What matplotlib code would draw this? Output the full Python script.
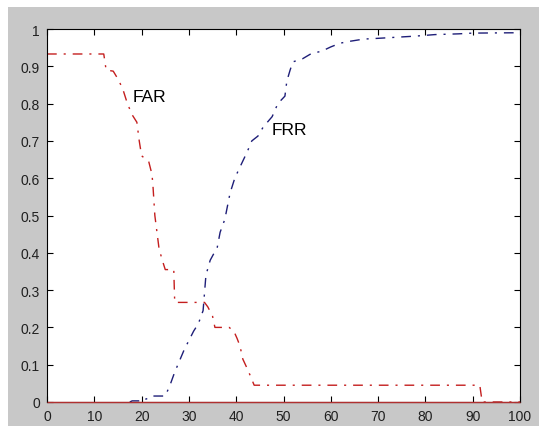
import matplotlib
matplotlib.use("Agg")
import matplotlib.pyplot as plt
from matplotlib.patches import Rectangle

# FAR curve (red)
far_x = [0, 12, 12.5, 14, 15, 16, 17, 18, 19, 19.5, 20, 21.5, 22.2, 22.4, 22.8, 23.7, 24.5, 25,
         26.8, 27, 33.3, 34, 35, 35.5, 38.5, 39.5, 40.2, 40.8, 41.4, 42.5, 43.8, 91.5, 92, 100]
far_y = [0.933, 0.933, 0.89, 0.887, 0.866, 0.84, 0.80, 0.77, 0.75, 0.70, 0.66, 0.645, 0.61, 0.58,
         0.50, 0.41, 0.375, 0.355, 0.355, 0.267, 0.267, 0.255, 0.23, 0.20, 0.20, 0.19, 0.17, 0.15,
         0.115, 0.085, 0.045, 0.045, 0.0, 0.0]

# FRR curve (blue)
frr_x = [17.5, 18, 19.7, 20, 21, 22, 25, 26, 27, 28, 29, 30, 31, 32, 33, 33.6, 34.5, 36, 36.6,
         37.6, 38.7, 39.7, 40.8, 42.3, 43.3, 44.6, 45.7, 47.6, 48.8, 50.3, 50.7, 51.4, 52, 54,
         56, 58, 60, 62, 64, 67, 70, 74, 78, 82, 87, 90, 100]
frr_y = [0, 0.003, 0.003, 0.008, 0.008, 0.016, 0.016, 0.045, 0.08, 0.11, 0.14, 0.165, 0.19,
         0.21, 0.245, 0.34, 0.38, 0.415, 0.455, 0.49, 0.56, 0.60, 0.63, 0.67, 0.70, 0.713, 0.737,
         0.765, 0.80, 0.82, 0.86, 0.89, 0.912, 0.92, 0.935, 0.94, 0.952, 0.962, 0.967, 0.973,
         0.975, 0.978, 0.981, 0.985, 0.987, 0.989, 0.99]

# zero baseline
base_x = [0, 100]
base_y = [0, 0]

x_ticks = [0, 10, 20, 30, 40, 50, 60, 70, 80, 90, 100]
y_ticks = [0, 0.1, 0.2, 0.3, 0.4, 0.5, 0.6, 0.7, 0.8, 0.9, 1]
y_labels = ["0", "0.1", "0.2", "0.3", "0.4", "0.5", "0.6", "0.7", "0.8", "0.9", "1"]

W, H = 539, 431
fig = plt.figure(figsize=(W / 100, H / 100), dpi=100, facecolor="white")
bg = Rectangle((8 / W, 4 / H), 1 - 8 / W, (H - 12) / H,
               transform=fig.transFigure, facecolor="#c8c8c8",
               edgecolor="none", zorder=-10)
fig.add_artist(bg)

ax = fig.add_axes([47 / W, (H - 403) / H, 473 / W, 373 / H])
ax.set_zorder(5)
ax.set_facecolor("white")

red = "#c41e1e"
blue = "#1e1e78"
ax.plot(base_x, base_y, color="#b03030", lw=1.0, solid_capstyle="butt",
        zorder=3, clip_on=False)
ax.plot(far_x, far_y, color=red, lw=1.0, linestyle=(0, (7, 5, 1.5, 5)))
ax.plot(frr_x, frr_y, color=blue, lw=1.0, linestyle=(0, (7, 5, 1.5, 5)))

ax.text(18.2, 0.82, "FAR", fontsize=12.5, family="Liberation Sans", va="center", ha="left")
ax.text(47.4, 0.73, "FRR", fontsize=12.5, family="Liberation Sans", va="center", ha="left")

ax.set_xlim(0, 100)
ax.set_ylim(0, 1)
ax.set_xticks(x_ticks)
ax.set_xticklabels([str(t) for t in x_ticks])
ax.set_yticks(y_ticks)
ax.set_yticklabels(y_labels)
ax.tick_params(direction="in", length=4, width=0.8, top=True, right=True,
               labelsize=10, pad=5, colors="black")
for lab in ax.get_xticklabels() + ax.get_yticklabels():
    lab.set_family("Liberation Sans")
    lab.set_color("#202020")
for s in ax.spines.values():
    s.set_linewidth(0.8)
    s.set_color("black")

fig.savefig("out.png", dpi=100, facecolor=fig.get_facecolor())
